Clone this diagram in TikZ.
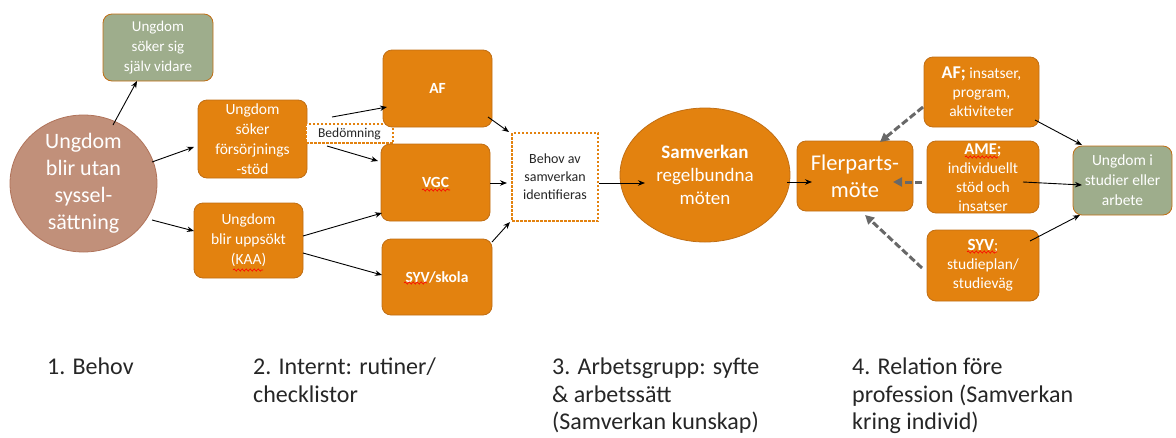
\documentclass[tikz,border=0pt]{standalone}
\usepackage{fontspec}
\setmainfont{Carlito}
\usetikzlibrary{arrows.meta,shapes.geometric,decorations.pathmorphing}
\definecolor{orng}{HTML}{E3820F}
\definecolor{orngd}{HTML}{C06E14}
\definecolor{grn}{HTML}{9EAD8C}
\definecolor{circf}{HTML}{C1907A}
\definecolor{circd}{HTML}{B0735A}
\definecolor{darktxt}{HTML}{262626}
\definecolor{garrc}{HTML}{686868}
\newcommand{\fsz}[2]{\fontsize{#1}{#2}\selectfont}
\begin{document}
\begin{tikzpicture}[x=1pt,y=-1pt,
  obox/.style={rounded corners=9pt, draw=orngd, line width=0.8pt, fill=orng, text=white, align=center, inner sep=0pt},
  gbox/.style={obox, fill=grn},
  dbox/.style={draw=orng, fill=white, line width=1.1pt, dash pattern=on 2.5pt off 1.5pt, text=darktxt, align=center, inner sep=0pt},
  txtw/.style={text=white, align=center, inner sep=0pt},
  lab/.style={text=darktxt, align=left, inner sep=0pt, anchor=north west, font=\fsz{24}{27.5}},
  arr/.style={-{Stealth[length=7pt,width=5.5pt]}, line width=0.9pt, draw=black},
  garr/.style={-{Triangle[length=9pt,width=9pt]}, line width=3pt, draw=garrc, dash pattern=on 7pt off 3pt},
  squig/.style={draw=red, line width=0.6pt, decorate, decoration={snake, amplitude=1.1pt, segment length=4pt}}
]
\useasboundingbox (0,0) rectangle (1176,437);

% column 1
\node[ellipse, draw=circd, fill=circf, line width=0.8pt, minimum width=147pt, minimum height=137pt, inner sep=0pt] (circ) at (83.5,183.5) {};
\node[txtw, font=\fsz{22}{27}] (circt) at (circ.center) {Ungdom\\blir utan\\syssel-\\sättning};
\node[gbox, minimum width=110pt, minimum height=67pt, font=\fsz{15}{20}] (g1) at (158,47.5) {Ungdom\\söker sig\\själv vidare};

% column 2
\node[obox, minimum width=109pt, minimum height=78pt, font=\fsz{15.5}{20}] (fors) at (252.5,139) {Ungdom\\söker\\försörjnings\\-stöd};
\node[obox, minimum width=109pt, minimum height=75pt, font=\fsz{15.5}{20}] (upps) at (248.5,240.5) {Ungdom\\blir uppsökt\\(KAA)};
\node[dbox, minimum width=87pt, minimum height=19pt, font=\fsz{13.5}{16}] (bed) at (349.5,133.5) {Bedömning};

% column 3
\node[obox, minimum width=109pt, minimum height=77pt, font=\fsz{15.5}{20}\bfseries] (af) at (437.5,88.5) {AF};
\node[obox, minimum width=109pt, minimum height=77pt, font=\fsz{15.5}{20}\bfseries] (vgc) at (435.5,182.5) {VGC};
\node[obox, minimum width=110pt, minimum height=76pt, font=\fsz{15.5}{20}\bfseries] (syv) at (437,277) {SYV/skola};
\node[dbox, minimum width=86pt, minimum height=88pt, font=\fsz{14}{18}] (behov) at (555,177) {Behov av\\samverkan\\identifieras};

% column 4
\node[ellipse, draw=orngd, fill=orng, line width=0.8pt, minimum width=170pt, minimum height=134pt, inner sep=0pt] (samv) at (705,175) {};
\node[txtw, font=\fsz{19}{23}] (samvt) at (samv.center) {\textbf{Samverkan}\\regelbundna\\möten};
\node[obox, minimum width=116pt, minimum height=70pt, font=\fsz{22.5}{27}] (fler) at (855,176) {Flerparts-\\möte};

% column 5
\node[obox, minimum width=115pt, minimum height=70pt, font=\fsz{15.5}{19}] (afr) at (981.5,92) {{\fsz{18}{19}\bfseries AF;} insatser,\\program,\\aktiviteter};
\node[obox, minimum width=112pt, minimum height=72pt] (ame) at (983,177) {};
\node[txtw, font=\fsz{15.5}{19}] (amet) at ([yshift=-1pt]ame.center) {{\fsz{16.5}{19}\bfseries AME;}\\individuellt\\stöd och\\insatser};
\node[obox, minimum width=112pt, minimum height=71pt, font=\fsz{15.5}{19}] (syvr) at (983,265.5) {{\fsz{17}{19}\bfseries SYV};\\studieplan/\\studieväg};
\node[gbox, minimum width=99pt, minimum height=69pt, font=\fsz{15.5}{20}] (grr) at (1122.5,180.5) {Ungdom i\\studier eller\\arbete};

% spelling squiggles
\draw[squig] ([shift={(-15.5,29.5)}]upps.center) -- ++(30,0);
\draw[squig] ([shift={(-13.5,7.5)}]vgc.center) -- ++(28,0);
\draw[squig] ([shift={(-33,6)}]syv.center) -- ++(23,0);
\draw[squig] ([shift={(-18,-20)}]ame.center) -- ++(33,0);
\draw[squig] ([shift={(-16,-13.5)}]syvr.center) -- ++(30,0);

% arrows
\draw[arr] ([shift={(29.5,-58.5)}]circ.center) -- ([shift={(-21,33.5)}]g1.center);
\draw[arr] ([shift={(68.5,-21.5)}]circ.center) -- ([shift={(-58.5,8)}]fors.center);
\draw[arr] ([shift={(68.5,36.5)}]circ.center) -- ([shift={(-54.5,-9.5)}]upps.center);
\draw[arr] ([shift={(79.5,-22)}]fors.center) -- ([shift={(-50.5,18.5)}]af.center);
\draw[arr] ([shift={(74.5,7)}]fors.center) -- ([shift={(-57.5,-21.5)}]vgc.center);
\draw[arr] ([shift={(54.5,-4.5)}]upps.center) -- ([shift={(-53.5,30.5)}]vgc.center);
\draw[arr] ([shift={(54.5,12.5)}]upps.center) -- ([shift={(-55,-2)}]syv.center);
\draw[arr] ([shift={(50.5,28.5)}]af.center) -- ([shift={(-46,-45)}]behov.center);
\draw[arr] ([shift={(54.5,0.5)}]vgc.center) -- ([shift={(-48,6)}]behov.center);
\draw[arr] ([shift={(55,-35)}]syv.center) -- ([shift={(-45,45)}]behov.center);
\draw[arr] ([shift={(44,6)}]behov.center) -- ([shift={(-60,8)}]samv.center);
\draw[arr] ([shift={(82,7)}]samv.center) -- ([shift={(-43,6)}]fler.center);

\draw[garr] ([shift={(-58.5,15)}]afr.center) -- ([shift={(25,-34)}]fler.center);
\draw[garr] ([shift={(-61,5)}]ame.center) -- ([shift={(38,6)}]fler.center);
\draw[garr] ([shift={(-61,2.5)}]syvr.center) -- ([shift={(10,39)}]fler.center);

\draw[arr] ([shift={(53.5,28)}]afr.center) -- ([shift={(-40.5,-35.5)}]grr.center);
\draw[arr] ([shift={(40,5)}]ame.center) -- ([shift={(-40.5,4.5)}]grr.center);
\draw[arr] ([shift={(47,-24.5)}]syvr.center) -- ([shift={(-42.5,34.5)}]grr.center);

% bottom labels
\node[lab] (l1) at (47,358) {1. Behov};
\node[lab] (l2) at (253,358) {2. Internt: rutiner/\\checklistor};
\node[lab] (l3) at (552,358) {3. Arbetsgrupp: syfte\\\& arbetssätt\\(Samverkan kunskap)};
\node[lab] (l4) at (852,358) {4. Relation före\\profession (Samverkan\\kring individ)};
\end{tikzpicture}
\end{document}
